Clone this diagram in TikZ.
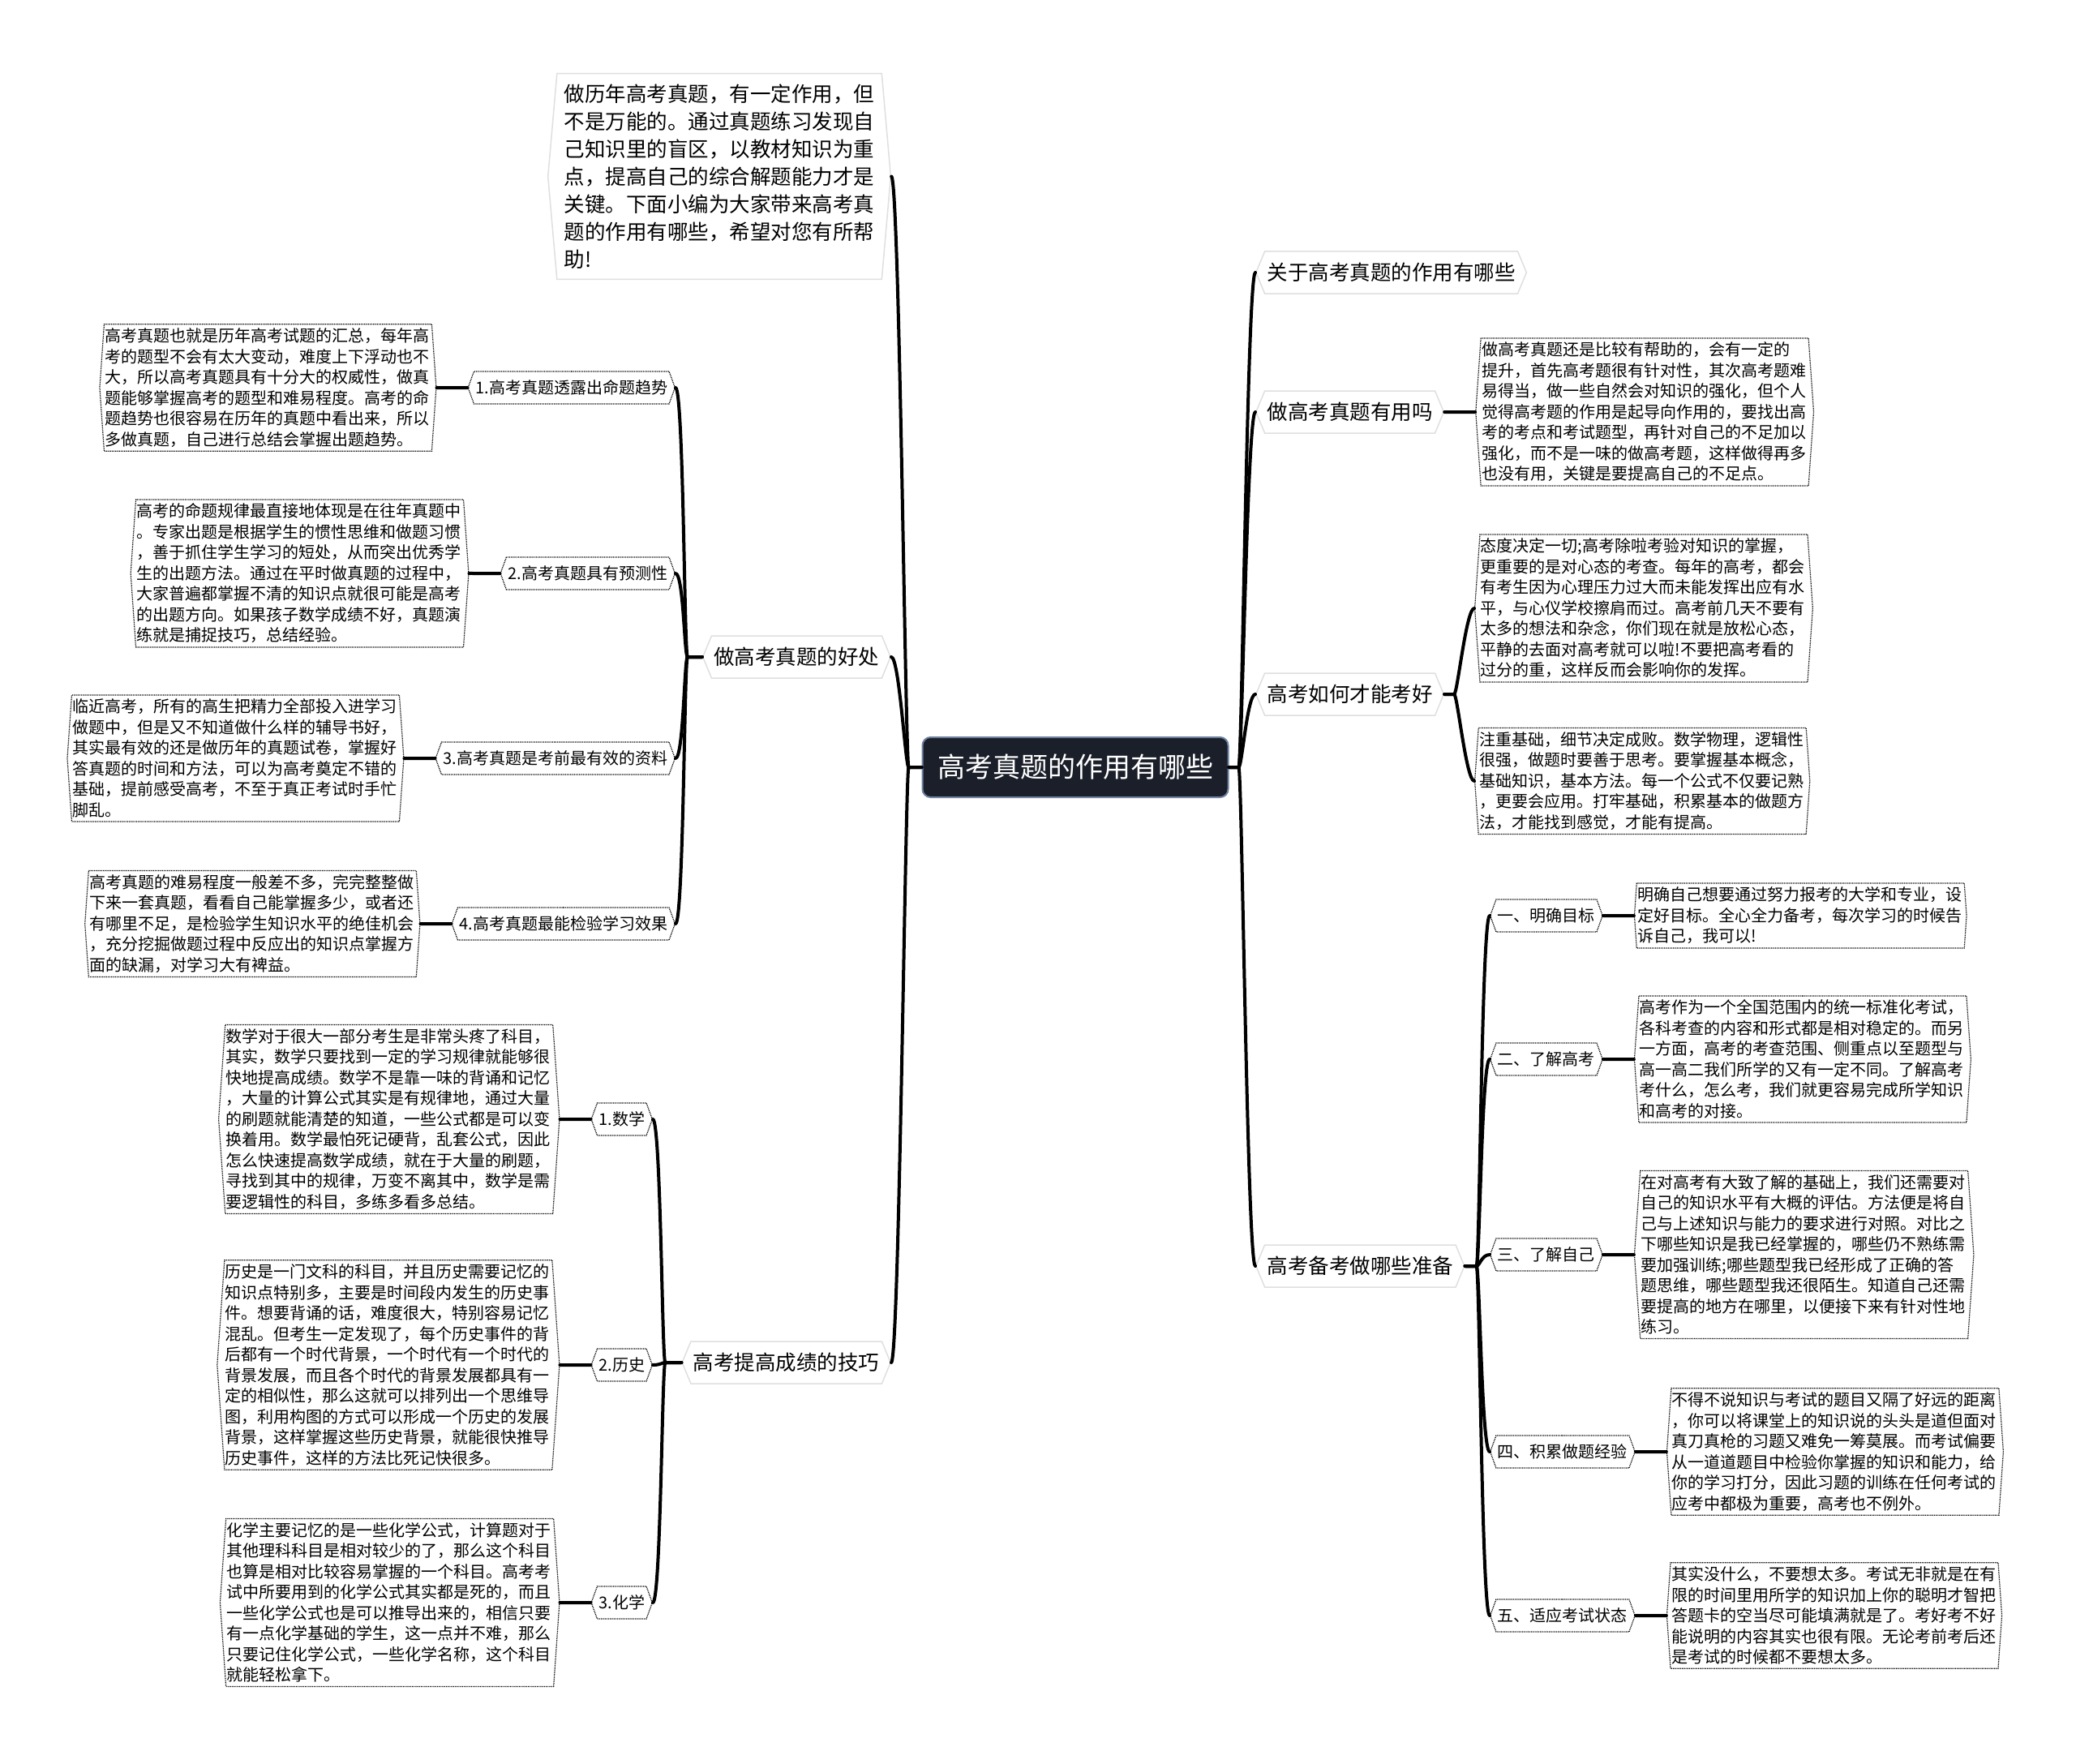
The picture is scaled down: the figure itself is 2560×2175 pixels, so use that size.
\documentclass[tikz,border=0pt]{standalone}
\usepackage{fontspec}
\setmainfont{Noto Sans CJK SC}
\usetikzlibrary{shapes.symbols,positioning}
\definecolor{rootfill}{RGB}{27,31,42}
\definecolor{rootline}{RGB}{110,130,160}

\begin{document}
\begin{tikzpicture}[
    x=1pt, y=-1pt,
    node distance=38pt,
    root/.style={rectangle, rounded corners=10pt, draw=rootline, line width=2pt, fill=rootfill, text=white, font=\fontsize{34}{40}\selectfont, minimum width=377pt, minimum height=74pt},
    topic/.style={signal, signal to=west and east, signal pointer angle=135, draw=gray!25, line width=1.5pt, fill=white, font=\fontsize{25.5}{34}\selectfont, inner xsep=3pt, minimum height=52pt},
    subtopic/.style={signal, signal to=west and east, signal pointer angle=140, draw, densely dotted, line width=1.2pt, fill=white, font=\fontsize{20}{25.5}\selectfont, inner xsep=2pt, minimum height=40pt},
    leaf/.style={signal, signal to=west and east, signal pointer angle=172, draw, densely dotted, line width=1.2pt, fill=white, font=\fontsize{20}{25.5}\selectfont, text width=402pt, align=left, inner xsep=1pt, inner ysep=5pt},
    link/.style={line width=4pt, line cap=round, line join=round}
]
    \useasboundingbox (0,0) rectangle (2560,2175);

    \node[root] (root) at (1326,946) {高考真题的作用有哪些};

    \node[topic, anchor=west] (about) at (1548,336) {关于高考真题的作用有哪些};
    \node[topic, anchor=west] (useful) at (1548,508) {做高考真题有用吗};
    \node[topic, anchor=west] (howgood) at (1548,856) {高考如何才能考好};
    \node[topic, anchor=west] (prepare) at (1548,1561) {高考备考做哪些准备};

    \node[topic, signal pointer angle=170, align=left, anchor=north east, inner xsep=9pt, inner ysep=13pt] (intro) at (1088,90) {做历年高考真题，有一定作用，但\\不是万能的。通过真题练习发现自\\己知识里的盲区，以教材知识为重\\点，提高自己的综合解题能力才是\\关键。下面小编为大家带来高考真\\题的作用有哪些，希望对您有所帮\\助!};
    \node[topic, anchor=east] (benefit) at (1099,810) {做高考真题的好处};
    \node[topic, anchor=east] (skills) at (1099,1680) {高考提高成绩的技巧};

    \node[subtopic, anchor=east] (trend) at (833,478) {1.高考真题透露出命题趋势};
    \node[subtopic, anchor=east] (predict) at (833,707) {2.高考真题具有预测性};
    \node[subtopic, anchor=east] (material) at (833,935) {3.高考真题是考前最有效的资料};
    \node[subtopic, anchor=east] (check) at (833,1139) {4.高考真题最能检验学习效果};

    \node[leaf, left=of trend] (trendtext) {高考真题也就是历年高考试题的汇总，每年高\\考的题型不会有太大变动，难度上下浮动也不\\大，所以高考真题具有十分大的权威性，做真\\题能够掌握高考的题型和难易程度。高考的命\\题趋势也很容易在历年的真题中看出来，所以\\多做真题，自己进行总结会掌握出题趋势。};
    \node[leaf, left=of predict] (predicttext) {高考的命题规律最直接地体现是在往年真题中\\。专家出题是根据学生的惯性思维和做题习惯\\，善于抓住学生学习的短处，从而突出优秀学\\生的出题方法。通过在平时做真题的过程中，\\大家普遍都掌握不清的知识点就很可能是高考\\的出题方向。如果孩子数学成绩不好，真题演\\练就是捕捉技巧，总结经验。};
    \node[leaf, left=of material] (materialtext) {临近高考，所有的高生把精力全部投入进学习\\做题中，但是又不知道做什么样的辅导书好，\\其实最有效的还是做历年的真题试卷，掌握好\\答真题的时间和方法，可以为高考奠定不错的\\基础，提前感受高考，不至于真正考试时手忙\\脚乱。};
    \node[leaf, left=of check] (checktext) {高考真题的难易程度一般差不多，完完整整做\\下来一套真题，看看自己能掌握多少，或者还\\有哪里不足，是检验学生知识水平的绝佳机会\\，充分挖掘做题过程中反应出的知识点掌握方\\面的缺漏，对学习大有裨益。};

    \node[subtopic, anchor=east] (math) at (805,1380) {1.数学};
    \node[subtopic, anchor=east] (history) at (805,1683) {2.历史};
    \node[subtopic, anchor=east] (chem) at (805,1976) {3.化学};

    \node[leaf, left=of math] (mathtext) {数学对于很大一部分考生是非常头疼了科目，\\其实，数学只要找到一定的学习规律就能够很\\快地提高成绩。数学不是靠一味的背诵和记忆\\，大量的计算公式其实是有规律地，通过大量\\的刷题就能清楚的知道，一些公式都是可以变\\换着用。数学最怕死记硬背，乱套公式，因此\\怎么快速提高数学成绩，就在于大量的刷题，\\寻找到其中的规律，万变不离其中，数学是需\\要逻辑性的科目，多练多看多总结。};
    \node[leaf, left=of history] (historytext) {历史是一门文科的科目，并且历史需要记忆的\\知识点特别多，主要是时间段内发生的历史事\\件。想要背诵的话，难度很大，特别容易记忆\\混乱。但考生一定发现了，每个历史事件的背\\后都有一个时代背景，一个时代有一个时代的\\背景发展，而且各个时代的背景发展都具有一\\定的相似性，那么这就可以排列出一个思维导\\图，利用构图的方式可以形成一个历史的发展\\背景，这样掌握这些历史背景，就能很快推导\\历史事件，这样的方法比死记快很多。};
    \node[leaf, left=of chem] (chemtext) {化学主要记忆的是一些化学公式，计算题对于\\其他理科科目是相对较少的了，那么这个科目\\也算是相对比较容易掌握的一个科目。高考考\\试中所要用到的化学公式其实都是死的，而且\\一些化学公式也是可以推导出来的，相信只要\\有一点化学基础的学生，这一点并不难，那么\\只要记住化学公式，一些化学名称，这个科目\\就能轻松拿下。};

    \node[leaf, right=of useful] (usefultext) {做高考真题还是比较有帮助的，会有一定的\\提升，首先高考题很有针对性，其次高考题难\\易得当，做一些自然会对知识的强化，但个人\\觉得高考题的作用是起导向作用的，要找出高\\考的考点和考试题型，再针对自己的不足加以\\强化，而不是一味的做高考题，这样做得再多\\也没有用，关键是要提高自己的不足点。};
    \node[leaf, anchor=west] (mindset) at (1818,750) {态度决定一切;高考除啦考验对知识的掌握，\\更重要的是对心态的考查。每年的高考，都会\\有考生因为心理压力过大而未能发挥出应有水\\平，与心仪学校擦肩而过。高考前几天不要有\\太多的想法和杂念，你们现在就是放松心态，\\平静的去面对高考就可以啦!不要把高考看的\\过分的重，这样反而会影响你的发挥。};
    \node[leaf, anchor=west] (basics) at (1818,963) {注重基础，细节决定成败。数学物理，逻辑性\\很强，做题时要善于思考。要掌握基本概念，\\基础知识，基本方法。每一个公式不仅要记熟\\，更要会应用。打牢基础，积累基本的做题方\\法，才能找到感觉，才能有提高。};

    \node[subtopic, anchor=west] (goal) at (1837,1129) {一、明确目标};
    \node[subtopic, anchor=west] (knowexam) at (1837,1306) {二、了解高考};
    \node[subtopic, anchor=west] (knowself) at (1837,1547) {三、了解自己};
    \node[subtopic, anchor=west] (practice) at (1837,1790) {四、积累做题经验};
    \node[subtopic, anchor=west] (state) at (1837,1992) {五、适应考试状态};

    \node[leaf, right=of goal] (goaltext) {明确自己想要通过努力报考的大学和专业，设\\定好目标。全心全力备考，每次学习的时候告\\诉自己，我可以!};
    \node[leaf, right=of knowexam] (knowexamtext) {高考作为一个全国范围内的统一标准化考试，\\各科考查的内容和形式都是相对稳定的。而另\\一方面，高考的考查范围、侧重点以至题型与\\高一高二我们所学的又有一定不同。了解高考\\考什么，怎么考，我们就更容易完成所学知识\\和高考的对接。};
    \node[leaf, right=of knowself] (knowselftext) {在对高考有大致了解的基础上，我们还需要对\\自己的知识水平有大概的评估。方法便是将自\\己与上述知识与能力的要求进行对照。对比之\\下哪些知识是我已经掌握的，哪些仍不熟练需\\要加强训练;哪些题型我已经形成了正确的答\\题思维，哪些题型我还很陌生。知道自己还需\\要提高的地方在哪里，以便接下来有针对性地\\练习。};
    \node[leaf, right=of practice] (practicetext) {不得不说知识与考试的题目又隔了好远的距离\\，你可以将课堂上的知识说的头头是道但面对\\真刀真枪的习题又难免一筹莫展。而考试偏要\\从一道道题目中检验你掌握的知识和能力，给\\你的学习打分，因此习题的训练在任何考试的\\应考中都极为重要，高考也不例外。};
    \node[leaf, right=of state] (statetext) {其实没什么，不要想太多。考试无非就是在有\\限的时间里用所学的知识加上你的聪明才智把\\答题卡的空当尽可能填满就是了。考好考不好\\能说明的内容其实也很有限。无论考前考后还\\是考试的时候都不要想太多。};

    \draw[link] (root.west) -- ++(-16,0) .. controls +(-4,0) and +(10,0) .. (intro.east);
    \draw[link] (root.west) -- ++(-16,0) .. controls +(-4,0) and +(10,0) .. (benefit.east);
    \draw[link] (root.west) -- ++(-16,0) .. controls +(-4,0) and +(10,0) .. (skills.east);
    \draw[link] (root.east) -- ++(12,0) .. controls +(4,0) and +(-10,0) .. (about.west);
    \draw[link] (root.east) -- ++(12,0) .. controls +(4,0) and +(-10,0) .. (useful.west);
    \draw[link] (root.east) -- ++(12,0) .. controls +(4,0) and +(-10,0) .. (howgood.west);
    \draw[link] (root.east) -- ++(12,0) .. controls +(4,0) and +(-10,0) .. (prepare.west);

    \draw[link] (benefit.west) -- ++(-18,0) .. controls +(-4,0) and +(10,0) .. (trend.east);
    \draw[link] (benefit.west) -- ++(-18,0) .. controls +(-4,0) and +(10,0) .. (predict.east);
    \draw[link] (benefit.west) -- ++(-18,0) .. controls +(-4,0) and +(10,0) .. (material.east);
    \draw[link] (benefit.west) -- ++(-18,0) .. controls +(-4,0) and +(10,0) .. (check.east);
    \draw[link] (trend) -- (trendtext);
    \draw[link] (predict) -- (predicttext);
    \draw[link] (material) -- (materialtext);
    \draw[link] (check) -- (checktext);

    \draw[link] (skills.west) -- ++(-20,0) .. controls +(-4,0) and +(10,0) .. (math.east);
    \draw[link] (skills.west) -- ++(-20,0) .. controls +(-4,0) and +(10,0) .. (history.east);
    \draw[link] (skills.west) -- ++(-20,0) .. controls +(-4,0) and +(10,0) .. (chem.east);
    \draw[link] (math) -- (mathtext);
    \draw[link] (history) -- (historytext);
    \draw[link] (chem) -- (chemtext);

    \draw[link] (useful) -- (usefultext);
    \draw[link] (howgood.east) -- ++(12,0) .. controls +(4,0) and +(-10,0) .. (mindset.west);
    \draw[link] (howgood.east) -- ++(12,0) .. controls +(4,0) and +(-10,0) .. (basics.west);

    \draw[link] (prepare.east) -- ++(14,0) .. controls +(4,0) and +(-10,0) .. (goal.west);
    \draw[link] (prepare.east) -- ++(14,0) .. controls +(4,0) and +(-10,0) .. (knowexam.west);
    \draw[link] (prepare.east) -- ++(14,0) .. controls +(4,0) and +(-10,0) .. (knowself.west);
    \draw[link] (prepare.east) -- ++(14,0) .. controls +(4,0) and +(-10,0) .. (practice.west);
    \draw[link] (prepare.east) -- ++(14,0) .. controls +(4,0) and +(-10,0) .. (state.west);
    \draw[link] (goal) -- (goaltext);
    \draw[link] (knowexam) -- (knowexamtext);
    \draw[link] (knowself) -- (knowselftext);
    \draw[link] (practice) -- (practicetext);
    \draw[link] (state) -- (statetext);
\end{tikzpicture}
\end{document}
